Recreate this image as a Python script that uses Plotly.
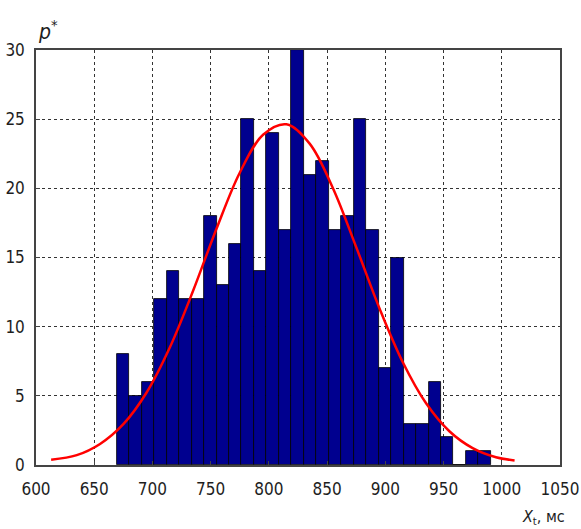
import plotly.graph_objects as go

# Histogram of interval durations (30 equal bins)
bin_start = 669.4
bin_width = 10.707
counts = [8, 5, 6, 12, 14, 12, 12, 18, 13, 16,
          25, 14, 24, 17, 30, 21, 22, 17, 18, 25,
          17, 7, 15, 3, 3, 6, 2, 0, 1, 1]

# Fitted normal curve, sampled points
curve_x = [613, 635, 655, 675, 695, 715, 735, 755, 775, 795, 815,
           835, 855, 875, 895, 915, 935, 955, 975, 995, 1011]
curve_y = [0.38, 0.71, 1.52, 2.95, 5.24, 8.51, 12.61, 17.08, 21.13, 23.87, 24.63,
           23.23, 20.01, 15.75, 11.32, 7.43, 4.46, 2.44, 1.22, 0.56, 0.33]

x_ticks = [600, 650, 700, 750, 800, 850, 900, 950, 1000, 1050]
y_ticks = [0, 5, 10, 15, 20, 25, 30]

centers = [bin_start + bin_width * (i + 0.5) for i in range(len(counts))]

font_family = "DejaVu Sans Condensed, DejaVu Sans, sans-serif"
text_color = "#1e1e1e"

fig = go.Figure()
fig.add_trace(go.Bar(
    x=centers, y=counts, width=bin_width,
    marker=dict(color="#00008F", line=dict(color="#000000", width=0.8)),
    showlegend=False,
))
fig.add_trace(go.Scatter(
    x=curve_x, y=curve_y, mode="lines",
    line=dict(color="#FF0000", width=2.5, shape="spline"),
    showlegend=False,
))

axis_common = dict(
    automargin=False,
    showline=True, linecolor="#444444", linewidth=1.5, mirror=True,
    showgrid=True, gridcolor="#333333", gridwidth=1, griddash="dot",
    zeroline=False, ticks="inside", ticklen=4, tickcolor="#444444",
    tickfont=dict(family=font_family, size=17, color=text_color),
)

fig.update_xaxes(range=[600, 1050], tickvals=x_ticks, ticklabelstandoff=8, **axis_common)
fig.update_yaxes(range=[0, 30], tickvals=y_ticks, ticklabelstandoff=6, **axis_common)

fig.update_layout(
    template="none",
    width=581, height=529,
    margin=dict(l=36, r=21, t=50, b=64),
    plot_bgcolor="white", paper_bgcolor="white",
    bargap=0,
    annotations=[
        dict(text="<i>p</i><sup>*</sup>", xref="paper", yref="paper",
             x=0.0, y=1.0, xanchor="left", yanchor="bottom", yshift=4, showarrow=False,
             font=dict(family=font_family, size=21, color=text_color)),
        dict(text="<i>X</i><sub>t</sub>, мс", xref="paper", yref="paper",
             x=1.0, y=0.0, xanchor="right", yanchor="middle", xshift=7, yshift=-52, showarrow=False,
             font=dict(family=font_family, size=16, color=text_color)),
    ],
)

fig.write_html("out.html")
